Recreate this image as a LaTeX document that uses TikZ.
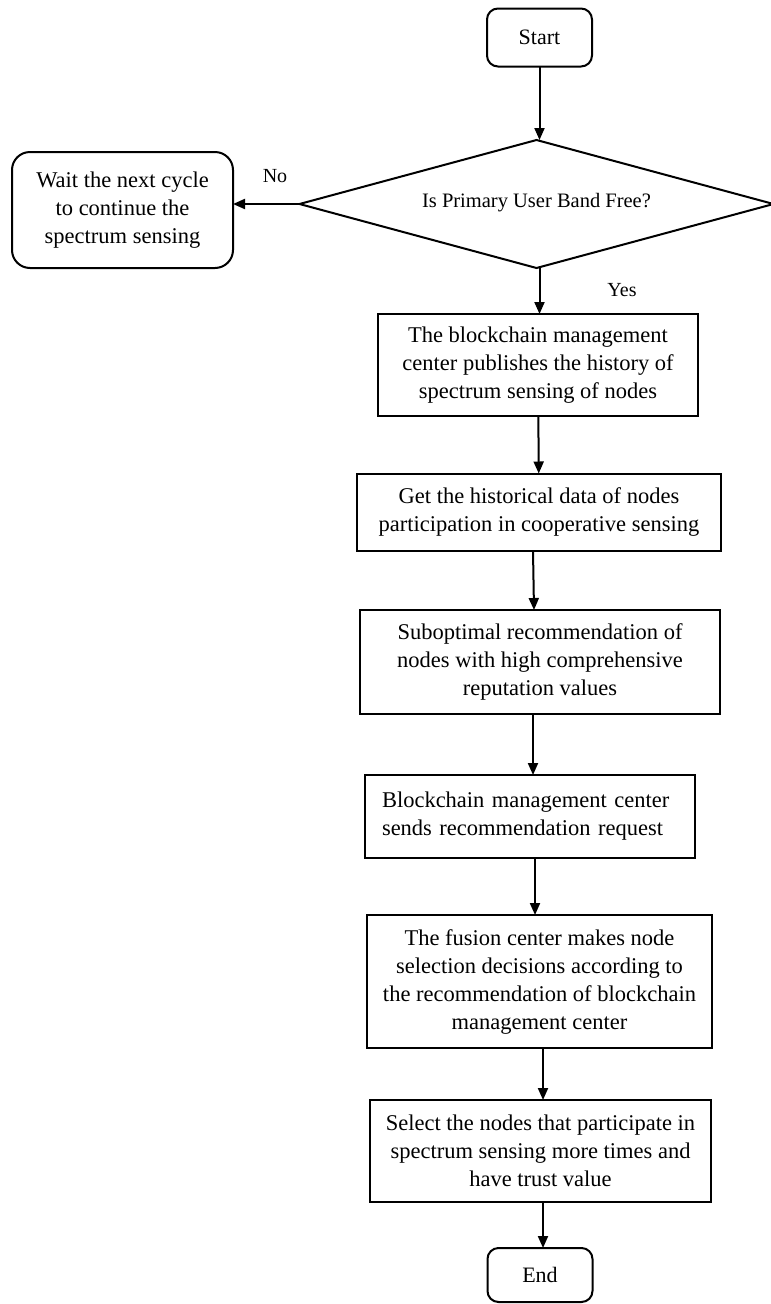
\documentclass[tikz,border=0pt]{standalone}
\usepackage{fontspec}
\setmainfont{Liberation Serif}
\usetikzlibrary{arrows.meta,shapes.geometric}
\begin{document}
\begin{tikzpicture}[x=1pt,y=-1pt,
  every node/.style={outer sep=0pt, inner sep=0pt},
  stepbox/.style={draw, line width=2pt, align=center,
    font=\fontsize{22.5}{28}\selectfont},
  term/.style={draw, line width=2pt, rounded corners=11pt,
    font=\fontsize{22}{26}\selectfont, minimum width=105pt, minimum height=58pt},
  arr/.style={line width=2pt, -{Triangle[length=12pt,width=10pt]}},
  lbl/.style={font=\fontsize{20}{24}\selectfont}]
\useasboundingbox (0,0) rectangle (771,1304);

% terminals
\node[term] (start) at (539.5,37.5) {Start};
\node[term, minimum height=54pt] (end) at (540,1275) {End};

% decision
\node[draw, diamond, aspect=3.72, line width=2pt, minimum width=474pt, minimum height=128pt,
  font=\fontsize{20.5}{24}\selectfont] (dec) at (536.5,204)
  {\raisebox{8pt}{Is Primary User Band Free?}};

% negative branch
\node[draw, line width=2pt, rounded corners=18pt, minimum width=221pt,
  minimum height=116pt, align=center, font=\fontsize{22.5}{28}\selectfont]
  (wait) at (122.5,210) {Wait the next cycle\\to continue the\\spectrum sensing};

% process steps
\node[stepbox, minimum width=320pt, minimum height=102pt] (b1) at (538,365)
  {The blockchain management\\center publishes the history of\\spectrum sensing of nodes};
\node[stepbox, minimum width=364pt, minimum height=77pt] (b2) at (539,512)
  {Get the historical data of nodes\\participation in cooperative sensing};
\node[stepbox, minimum width=360pt, minimum height=104pt] (b3) at (540,662)
  {Suboptimal recommendation of\\nodes with high comprehensive\\reputation values};
\node[stepbox, minimum width=330pt, minimum height=83pt, align=left,
  text width=296pt] (b4) at (530,816.5)
  {Blockchain management center\\sends recommendation request};
\node[stepbox, minimum width=345pt, minimum height=133pt] (b5) at (539.5,981.5)
  {The fusion center makes node\\selection decisions according to\\the recommendation of blockchain\\management center};
\node[stepbox, minimum width=341pt, minimum height=102pt] (b6) at (540.5,1151)
  {Select the nodes that participate in\\spectrum sensing more times and\\have trust value};

% connectors
\draw[arr] (start) -- (start |- dec.north);
\draw[arr] (dec.west) -- (wait.east |- dec.west);
\draw[arr] (start |- dec.south) -- (start |- b1.north);
\draw[arr] (b1) -- (b2);
\draw[arr] ([xshift=-6pt]b2.south) -- ([xshift=-6pt]b3.north);
\draw[arr] ([xshift=-7pt]b3.south) -- ([xshift=3pt]b4.north);
\draw[arr] ([xshift=5pt]b4.south) -- ([xshift=-4.5pt]b5.north);
\draw[arr] ([xshift=3.5pt]b5.south) -- ([xshift=2.5pt]b6.north);
\draw[arr] ([xshift=2.5pt]b6.south) -- ([xshift=3pt]end.north);

% branch labels
\node[lbl] (no) at (275,176) {No};
\node[lbl] (yes) at (622,290) {Yes};
\end{tikzpicture}
\end{document}
